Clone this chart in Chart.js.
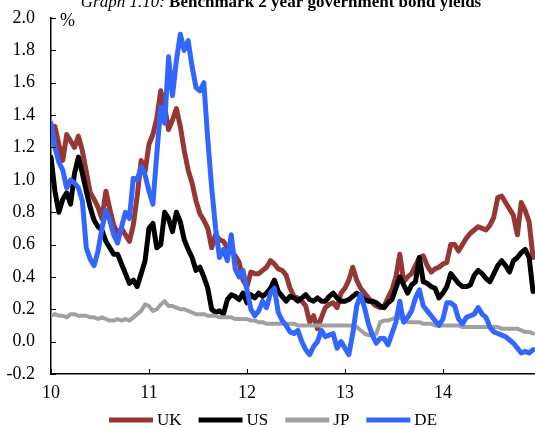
<!DOCTYPE html>
<html>
<head>
<meta charset="utf-8">
<script src="https://cdn.jsdelivr.net/npm/chart.js@4.4.0/dist/chart.umd.min.js"></script>
<style>
  html, body { margin: 0; padding: 0; background: #fff; }
  #wrap { position: relative; width: 535px; height: 428px; }
</style>
</head>
<body>
<div id="wrap"><canvas id="chart" width="535" height="428"></canvas></div>
<script>
// decimal years, roughly every two weeks from Jan 2010
const dates = [
  10.00, 10.04, 10.08, 10.12, 10.16, 10.20, 10.24, 10.28, 10.32, 10.36,
  10.40, 10.44, 10.48, 10.52, 10.56, 10.60, 10.64, 10.68, 10.72, 10.76,
  10.80, 10.84, 10.88, 10.92, 10.96, 11.00, 11.04, 11.08, 11.12, 11.16,
  11.20, 11.24, 11.28, 11.32, 11.36, 11.40, 11.44, 11.48, 11.52, 11.56,
  11.60, 11.64, 11.68, 11.72, 11.76, 11.80, 11.84, 11.88, 11.92, 11.96,
  12.00, 12.04, 12.08, 12.12, 12.16, 12.20, 12.24, 12.28, 12.32, 12.36,
  12.40, 12.44, 12.48, 12.52, 12.56, 12.60, 12.64, 12.68, 12.72, 12.76,
  12.80, 12.84, 12.88, 12.92, 12.96, 13.00, 13.04, 13.08, 13.12, 13.16,
  13.20, 13.24, 13.28, 13.32, 13.36, 13.40, 13.44, 13.48, 13.52, 13.56,
  13.60, 13.64, 13.68, 13.72, 13.76, 13.80, 13.84, 13.88, 13.92, 13.96,
  14.00, 14.04, 14.08, 14.12, 14.16, 14.20, 14.24, 14.28, 14.32, 14.36,
  14.40, 14.44, 14.48, 14.52, 14.56, 14.60, 14.64, 14.68, 14.72, 14.76,
  14.80, 14.84, 14.88, 14.92
];

const ukYield = [
  1.30, 1.33, 1.22, 1.12, 1.28, 1.24, 1.20, 1.27, 1.18, 1.05,
  0.92, 0.88, 0.83, 0.76, 0.93, 0.82, 0.72, 0.67, 0.70, 0.66,
  0.62, 0.72, 0.90, 1.12, 1.05, 1.22, 1.28, 1.38, 1.55, 1.45,
  1.31, 1.37, 1.44, 1.33, 1.18, 1.06, 0.98, 0.87, 0.79, 0.75,
  0.70, 0.58, 0.66, 0.63, 0.62, 0.58, 0.56, 0.53, 0.49, 0.38,
  0.34, 0.43, 0.42, 0.42, 0.44, 0.46, 0.50, 0.48, 0.45, 0.44,
  0.41, 0.33, 0.28, 0.27, 0.25, 0.22, 0.12, 0.16, 0.08, 0.15,
  0.21, 0.23, 0.24, 0.21, 0.30, 0.33, 0.38, 0.46, 0.38, 0.33,
  0.30, 0.27, 0.24, 0.22, 0.21, 0.22, 0.27, 0.32, 0.40, 0.54,
  0.37, 0.40, 0.42, 0.47, 0.52, 0.53, 0.47, 0.43, 0.45, 0.46,
  0.48, 0.49, 0.60, 0.60, 0.56, 0.60, 0.64, 0.67, 0.69, 0.71,
  0.70, 0.69, 0.72, 0.77, 0.89, 0.90, 0.86, 0.82, 0.78, 0.66,
  0.86, 0.81, 0.74, 0.52
];

const usYield = [
  1.14, 0.93, 0.80, 0.88, 0.92, 0.85, 1.04, 1.14, 1.04, 0.93,
  0.83, 0.75, 0.71, 0.69, 0.62, 0.58, 0.54, 0.54, 0.48, 0.42,
  0.36, 0.38, 0.34, 0.42, 0.50, 0.70, 0.73, 0.58, 0.60, 0.80,
  0.76, 0.68, 0.80, 0.74, 0.63, 0.57, 0.52, 0.44, 0.46, 0.40,
  0.33, 0.20, 0.18, 0.19, 0.17, 0.26, 0.29, 0.28, 0.26, 0.30,
  0.24, 0.29, 0.27, 0.30, 0.28, 0.30, 0.33, 0.38, 0.31, 0.28,
  0.25, 0.28, 0.27, 0.25, 0.27, 0.29, 0.26, 0.25, 0.27, 0.25,
  0.25, 0.28, 0.30, 0.27, 0.25, 0.25, 0.26, 0.28, 0.30, 0.28,
  0.26, 0.25, 0.25, 0.24, 0.22, 0.21, 0.24, 0.26, 0.33, 0.40,
  0.35, 0.30, 0.35, 0.37, 0.52, 0.37, 0.36, 0.34, 0.33, 0.27,
  0.30, 0.34, 0.42, 0.39, 0.36, 0.34, 0.34, 0.35, 0.41, 0.44,
  0.42, 0.39, 0.37, 0.42, 0.47, 0.50, 0.47, 0.43, 0.50, 0.52,
  0.55, 0.57, 0.52, 0.31
];

const jpYield = [
  0.16, 0.17, 0.16, 0.16, 0.15, 0.17, 0.17, 0.16, 0.16, 0.16,
  0.15, 0.15, 0.14, 0.15, 0.14, 0.13, 0.13, 0.14, 0.13, 0.14,
  0.13, 0.15, 0.17, 0.19, 0.23, 0.22, 0.19, 0.20, 0.23, 0.25,
  0.22, 0.22, 0.21, 0.20, 0.20, 0.19, 0.18, 0.17, 0.17, 0.17,
  0.16, 0.16, 0.16, 0.15, 0.15, 0.15, 0.15, 0.14, 0.14, 0.14,
  0.14, 0.13, 0.13, 0.12, 0.12, 0.11, 0.11, 0.11, 0.11, 0.11,
  0.11, 0.11, 0.11, 0.10, 0.10, 0.10, 0.10, 0.10, 0.10, 0.10,
  0.10, 0.10, 0.10, 0.10, 0.10, 0.10, 0.10, 0.10, 0.09, 0.07,
  0.05, 0.04, 0.04, 0.05, 0.12, 0.13, 0.13, 0.14, 0.15, 0.15,
  0.13, 0.12, 0.12, 0.12, 0.12, 0.11, 0.11, 0.11, 0.10, 0.10,
  0.10, 0.10, 0.10, 0.10, 0.10, 0.09, 0.09, 0.09, 0.09, 0.09,
  0.09, 0.09, 0.09, 0.09, 0.09, 0.08, 0.08, 0.08, 0.08, 0.08,
  0.07, 0.06, 0.06, 0.05
];

const deYield = [
  1.35, 1.20, 1.11, 1.06, 0.95, 1.00, 0.98, 0.95, 0.87, 0.58,
  0.51, 0.47, 0.56, 0.70, 0.81, 0.75, 0.66, 0.61, 0.71, 0.80,
  0.76, 1.01, 1.00, 1.08, 1.03, 0.93, 0.85, 1.16, 1.45, 1.35,
  1.76, 1.52, 1.74, 1.90, 1.80, 1.86, 1.70, 1.57, 1.55, 1.60,
  1.25, 0.95, 0.70, 0.52, 0.57, 0.50, 0.66, 0.45, 0.40, 0.44,
  0.32, 0.20, 0.16, 0.19, 0.25, 0.21, 0.30, 0.33, 0.18, 0.13,
  0.10, 0.06, 0.05, 0.07, 0.00, -0.05, -0.08, -0.03, 0.00, 0.07,
  0.03, 0.04, 0.05, -0.04, 0.00, -0.04, -0.08, 0.05, 0.22, 0.29,
  0.21, 0.11, 0.04, -0.01, 0.02, 0.02, -0.02, 0.05, 0.12, 0.25,
  0.12, 0.15, 0.19, 0.27, 0.32, 0.22, 0.19, 0.16, 0.13, 0.10,
  0.14, 0.24, 0.24, 0.22, 0.14, 0.11, 0.15, 0.16, 0.17, 0.21,
  0.17, 0.15, 0.09, 0.06, 0.05, 0.04, 0.03, 0.01, -0.01, -0.04,
  -0.07, -0.06, -0.07, -0.05
];

const seriesNames = ["UK", "US", "JP", "DE"];
const seriesColors = ["#953735", "#000000", "#a0a0a0", "#3366ff"];
const xTicks = [10, 11, 12, 13, 14];
const titleItalic = "Graph 1.10: ";
const titleBold = "Benchmark 2 year government bond yields";
const unitLabel = "%";

const serif = "'Liberation Serif', 'Times New Roman', serif";

function pts(vals) {
  return vals.map((v, i) => ({ x: dates[i], y: v }));
}

// inward tick marks, "%" label, legend row and the half-cut heading
const decorPlugin = {
  id: "decor",
  afterDraw(chart) {
    const ctx = chart.ctx;
    const xs = chart.scales.x, ys = chart.scales.y;
    const area = chart.chartArea;
    ctx.save();
    ctx.strokeStyle = "#000";
    ctx.lineWidth = 1;
    ys.ticks.forEach(t => {
      const y = Math.round(ys.getPixelForValue(t.value)) + 0.5;
      ctx.beginPath();
      ctx.moveTo(area.left, y);
      ctx.lineTo(area.left + 5, y);
      ctx.stroke();
    });
    xs.ticks.forEach(t => {
      const x = Math.round(xs.getPixelForValue(t.value)) + 0.5;
      ctx.beginPath();
      ctx.moveTo(x, area.bottom);
      ctx.lineTo(x, area.bottom - 5);
      ctx.stroke();
    });
    ctx.fillStyle = "#000";
    ctx.font = "18px " + serif;
    ctx.textBaseline = "middle";
    ctx.textAlign = "left";
    ctx.fillText(unitLabel, area.left + 9, area.top + 3);

    // legend
    ctx.font = "17px " + serif;
    let lx = 109;
    const ly = 420;
    chart.data.datasets.forEach(ds => {
      ctx.strokeStyle = ds.borderColor;
      ctx.lineWidth = 5;
      ctx.lineCap = "butt";
      ctx.beginPath();
      ctx.moveTo(lx, ly);
      ctx.lineTo(lx + 44, ly);
      ctx.stroke();
      ctx.fillStyle = "#000";
      ctx.fillText(ds.label, lx + 48, ly + 1);
      lx += 48 + ctx.measureText(ds.label).width + 17;
    });

    ctx.textBaseline = "alphabetic";
    ctx.font = "italic 17px " + serif;
    const w1 = ctx.measureText(titleItalic).width;
    ctx.font = "bold 17px " + serif;
    const w2 = ctx.measureText(titleBold).width;
    let x0 = 281 - (w1 + w2) / 2;
    ctx.font = "italic 17px " + serif;
    ctx.fillText(titleItalic, x0, 7);
    ctx.font = "bold 17px " + serif;
    ctx.fillText(titleBold, x0 + w1, 7);
    ctx.restore();
  }
};

const ctx = document.getElementById("chart");

new Chart(ctx, {
  type: "line",
  data: {
    datasets: [
      { label: seriesNames[0], data: pts(ukYield), borderColor: seriesColors[0], borderWidth: 5, order: 3 },
      { label: seriesNames[1], data: pts(usYield), borderColor: seriesColors[1], borderWidth: 5, order: 2 },
      { label: seriesNames[2], data: pts(jpYield), borderColor: seriesColors[2], borderWidth: 4, order: 1 },
      { label: seriesNames[3], data: pts(deYield), borderColor: seriesColors[3], borderWidth: 5, order: 0 }
    ]
  },
  options: {
    responsive: false,
    animation: false,
    devicePixelRatio: 1,
    elements: { point: { radius: 0 }, line: { tension: 0, borderJoinStyle: "round", borderCapStyle: "round" } },
    layout: { padding: { top: 18, right: 0, bottom: 0, left: 0 } },
    plugins: {
      tooltip: { enabled: false },
      legend: { display: false }
    },
    scales: {
      x: {
        type: "linear",
        min: 10,
        max: 14.94,
        grid: { display: false, drawTicks: false },
        border: { display: true, color: "#000", width: 1.5 },
        afterBuildTicks: s => { s.ticks = xTicks.map(v => ({ value: v })); },
        afterFit: s => { s.height = 54; s.paddingLeft = 0; s.paddingRight = 0; },
        ticks: {
          color: "#000",
          padding: 8,
          maxRotation: 0,
          font: { family: serif, size: 18 },
          callback: v => String(v)
        }
      },
      y: {
        min: -0.2,
        max: 2.0,
        grid: { display: false, drawTicks: false },
        border: { display: true, color: "#000", width: 1.5 },
        afterFit: s => { s.width = 51; s.paddingTop = 0; s.paddingBottom = 0; },
        ticks: {
          stepSize: 0.2,
          color: "#000",
          padding: 16,
          font: { family: serif, size: 18 },
          callback: v => Number(v).toFixed(1)
        }
      }
    }
  },
  plugins: [decorPlugin]
});
</script>
</body>
</html>
